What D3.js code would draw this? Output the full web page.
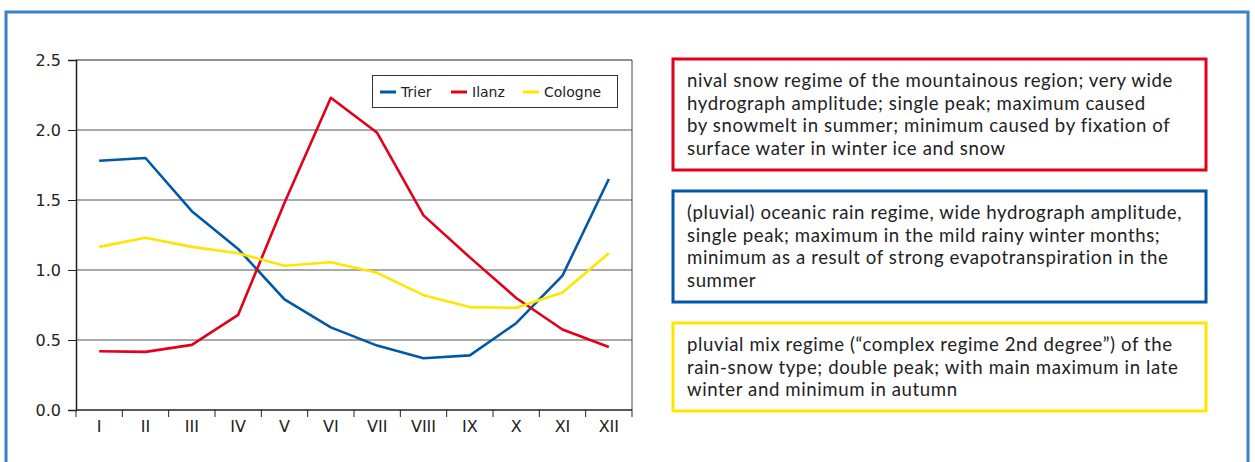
<!DOCTYPE html>
<html lang="en">
  <head>
    <meta charset="UTF-8" />
    <title>river regimes</title>
    <style>
      body { margin: 0; background: #fff; }
      svg text { font-family: "DejaVu Sans", Verdana, sans-serif; fill: #222; }
      svg text.note { font-family: Lato, "Open Sans", sans-serif; }
    </style>
  </head>
  <body>
    <svg width="1255" height="462" xmlns="http://www.w3.org/2000/svg"></svg>
    <script src="https://cdn.jsdelivr.net/npm/d3@7"></script>
    <script>
      const months = ["I", "II", "III", "IV", "V", "VI", "VII", "VIII", "IX", "X", "XI", "XII"];
      const trier = [1.78, 1.8, 1.42, 1.15, 0.79, 0.59, 0.46, 0.37, 0.39, 0.62, 0.96, 1.65];
      const ilanz = [0.42, 0.415, 0.465, 0.68, 1.48, 2.23, 1.98, 1.39, 1.09, 0.8, 0.575, 0.45];
      const cologne = [1.165, 1.23, 1.165, 1.12, 1.03, 1.055, 0.98, 0.82, 0.735, 0.73, 0.84, 1.12];
      const yTicks = [0, 0.5, 1.0, 1.5, 2.0, 2.5];

      const seriesNames = ["Trier", "Ilanz", "Cologne"];
      const seriesColors = ["#0059a8", "#e2001a", "#ffe600"];
      const series = [trier, ilanz, cologne];

      const notes = [
        { color: "#e2001a", lines: [
          "nival snow regime of the mountainous region; very wide",
          "hydrograph amplitude; single peak; maximum caused",
          "by snowmelt in summer; minimum caused by fixation of",
          "surface water in winter ice and snow"] },
        { color: "#0059a8", lines: [
          "(pluvial) oceanic rain regime, wide hydrograph amplitude,",
          "single peak; maximum in the mild rainy winter months;",
          "minimum as a result of strong evapotranspiration in the",
          "summer"] },
        { color: "#ffe600", lines: [
          "pluvial mix regime (\u201ccomplex regime 2nd degree\u201d) of the",
          "rain-snow type; double peak; with main maximum in late",
          "winter and minimum in autumn"] }
      ];

      const svg = d3.select("svg");

      // outer frame
      svg.append("rect")
        .attr("x", 6).attr("y", 12)
        .attr("width", 1242).attr("height", 470)
        .attr("fill", "none")
        .attr("stroke", "#3d7fc9")
        .attr("stroke-width", 3);

      const plotLeft = 76, plotRight = 632, plotTop = 60, plotBottom = 410;

      const x = d3.scaleBand().domain(months).range([plotLeft, plotRight]);
      const y = d3.scaleLinear().domain([0, 2.5]).range([plotBottom, plotTop]);

      // grid lines
      svg.append("g")
        .selectAll("line")
        .data(yTicks.slice(1))
        .join("line")
        .attr("x1", plotLeft).attr("x2", plotRight)
        .attr("y1", d => y(d)).attr("y2", d => y(d))
        .attr("stroke", d => d === 2.5 ? "#222" : "#555")
        .attr("stroke-width", 1);

      // right border of plot
      svg.append("line")
        .attr("x1", plotRight).attr("x2", plotRight)
        .attr("y1", plotTop).attr("y2", plotBottom)
        .attr("stroke", "#444");

      // y axis
      const yAxis = svg.append("g")
        .attr("transform", `translate(${plotLeft},0)`)
        .call(d3.axisLeft(y).tickValues(yTicks).tickFormat(d3.format(".1f")).tickSize(8).tickPadding(7));
      yAxis.select(".domain").attr("stroke", "#222").attr("stroke-width", 1.5);
      yAxis.selectAll(".tick line").attr("stroke", "#222");
      yAxis.selectAll("text").style("font-size", "16px").style("font-family", "'DejaVu Sans', sans-serif").attr("fill", "#222");

      // x axis: ticks at band boundaries, labels centred
      const xAxis = svg.append("g").attr("transform", `translate(0,${plotBottom})`);
      xAxis.append("line")
        .attr("x1", plotLeft).attr("x2", plotRight)
        .attr("stroke", "#222").attr("stroke-width", 1.5);
      const bounds = months.map(m => x(m)).concat([plotRight]);
      xAxis.selectAll(".xt")
        .data(bounds)
        .join("line")
        .attr("class", "xt")
        .attr("x1", d => d).attr("x2", d => d)
        .attr("y1", 0).attr("y2", 7)
        .attr("stroke", "#222");
      xAxis.selectAll(".xl")
        .data(months)
        .join("text")
        .attr("class", "xl")
        .attr("x", d => x(d) + x.bandwidth() / 2)
        .attr("y", 22)
        .attr("text-anchor", "middle")
        .style("font-size", "16px")
        .text(d => d);

      // lines
      const line = d3.line()
        .x((d, i) => x(months[i]) + x.bandwidth() / 2)
        .y(d => y(d));

      svg.append("g")
        .selectAll("path")
        .data(series)
        .join("path")
        .attr("d", line)
        .attr("fill", "none")
        .attr("stroke", (d, i) => seriesColors[i])
        .attr("stroke-width", 2.6)
        .attr("stroke-linejoin", "round");

      // legend
      const legend = svg.append("g");
      legend.append("rect")
        .attr("x", 372.5).attr("y", 75.5)
        .attr("width", 245).attr("height", 32)
        .attr("fill", "#fff")
        .attr("stroke", "#333");
      const legX = [380, 451, 523];
      seriesNames.forEach((name, i) => {
        legend.append("line")
          .attr("x1", legX[i]).attr("x2", legX[i] + 16)
          .attr("y1", 92).attr("y2", 92)
          .attr("stroke", seriesColors[i])
          .attr("stroke-width", 3);
        legend.append("text")
          .attr("x", legX[i] + 21).attr("y", 97)
          .style("font-size", "14px")
          .text(name);
      });

      // note boxes
      const boxTops = [59, 191, 323];
      const boxHeights = [111, 111, 88];
      notes.forEach((n, i) => {
        const g = svg.append("g");
        g.append("rect")
          .attr("x", 673).attr("y", boxTops[i])
          .attr("width", 533).attr("height", boxHeights[i])
          .attr("fill", "#fff")
          .attr("stroke", n.color)
          .attr("stroke-width", 3);
        g.selectAll("text")
          .data(n.lines)
          .join("text")
          .attr("class", "note")
          .attr("x", 687)
          .attr("y", (d, j) => boxTops[i] + 28 + j * 22.5)
          .style("font-size", "18.6px")
          .style("letter-spacing", "0.6px")
          .text(d => d);
      });
    </script>
  </body>
</html>
